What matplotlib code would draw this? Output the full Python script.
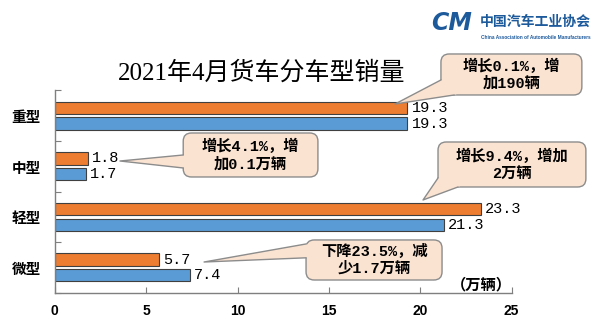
import matplotlib
matplotlib.use('Agg')
import matplotlib.pyplot as plt
from matplotlib.patches import FancyBboxPatch, Polygon

# Sales by truck class, April 2021 vs April 2020 (10k units)
categories = ['重型', '中型', '轻型', '微型']
sales_2021 = [19.3, 1.8, 23.3, 5.7]
sales_2020 = [19.3, 1.7, 21.3, 7.4]
callout_texts = ['增长0.1%，增\n加190辆',
                 '增长4.1%，增\n加0.1万辆',
                 '增长9.4%，增加\n2万辆',
                 '下降23.5%，减\n少1.7万辆']

ORANGE = '#ED7D31'
BLUE = '#5B9BD5'
BOX_FC = '#FBE3D2'
BOX_EC = '#8C8C8C'
LOGO = '#1d5a9c'

CJK = ['Noto Sans CJK SC', 'DejaVu Sans']
MONO = ['Liberation Mono', 'Noto Sans CJK SC']

fig = plt.figure(figsize=(6, 3.35), dpi=100)
ax = fig.add_axes([0.0912, 0.1263, 0.7616, 0.6036])

ypos = [3, 2, 1, 0]
h = 0.245
off = 0.155
ax.barh([y + off for y in ypos], sales_2021, height=h, color=ORANGE,
        edgecolor='#404040', linewidth=0.8, zorder=2)
ax.barh([y - off for y in ypos], sales_2020, height=h, color=BLUE,
        edgecolor='#404040', linewidth=0.8, zorder=2)

for y, v in zip(ypos, sales_2021):
    ax.text(v + 0.22, y + off, f'{v:.1f}', family=MONO, fontsize=11,
            va='center', ha='left')
for y, v in zip(ypos, sales_2020):
    ax.text(v + 0.22, y - off, f'{v:.1f}', family=MONO, fontsize=11,
            va='center', ha='left')

ax.set_xlim(0, 25)
ax.set_ylim(-0.5, 3.5)
ax.set_xticks(range(0, 26, 5))
ax.set_yticks([-0.5, 0.5, 1.5, 2.5, 3.5])
ax.set_yticklabels([])
ax.set_yticks(ypos, minor=True)
ax.set_yticklabels(categories, minor=True, family=CJK, fontweight='bold',
                   fontsize=10.5)
ax.tick_params(axis='y', which='major', direction='in', length=4,
               color='#7f7f7f')
ax.tick_params(axis='y', which='minor', length=0, pad=10)
ax.tick_params(axis='x', direction='in', length=4, color='#7f7f7f', pad=8)
for lab in ax.get_xticklabels():
    lab.set_family('Liberation Sans')
    lab.set_fontweight('bold')
    lab.set_fontsize(10)

for s in ['top', 'right']:
    ax.spines[s].set_visible(False)
for s in ['left', 'bottom']:
    ax.spines[s].set_color('#7f7f7f')
    ax.spines[s].set_linewidth(1.0)

ax.text(1.0, 0.043, '（万辆）', transform=ax.transAxes, family=CJK,
        fontweight='bold', fontsize=11, ha='right', va='center')

# callouts: box (x0, y0, w, h), pointer tip, two base points on the box edge
asp = 18.28 / 50.55
callouts = [
    ((21.13, 3.411, 7.71, 0.811), (18.62, 3.233), (21.13, 3.708), (21.85, 3.411)),
    ((7.03, 1.789, 7.37, 0.870), (3.57, 2.105), (7.03, 2.224), (7.03, 1.967)),
    ((20.97, 1.591, 8.09, 0.890), (20.15, 1.334), (20.97, 1.769), (22.06, 1.591)),
    ((13.75, -0.249, 7.44, 0.792), (8.17, 0.107), (13.75, 0.464), (13.75, 0.190)),
]
for (box, tip, a, b), txt in zip(callouts, callout_texts):
    x0, y0, w, hh = box
    patch = FancyBboxPatch((x0, y0), w, hh,
                           boxstyle='round,pad=0,rounding_size=0.45',
                           mutation_aspect=asp, fc=BOX_FC, ec=BOX_EC,
                           lw=1.0, clip_on=False, zorder=4)
    ax.add_patch(patch)
    cx, cy = x0 + w / 2, y0 + hh / 2
    wedge = Polygon([a, (cx, cy), b, tip], closed=True, fc=BOX_FC, ec='none',
                    clip_on=False, zorder=5)
    ax.add_patch(wedge)
    ax.plot([a[0], tip[0], b[0]], [a[1], tip[1], b[1]], color=BOX_EC,
            lw=1.0, clip_on=False, zorder=5)
    ax.text(cx, cy, txt, family=MONO, fontweight='bold', fontsize=11,
            ha='center', va='center', linespacing=1.25, zorder=6)

fig.text(0.436, 0.782, '2021年4月货车分车型销量',
         family=['Liberation Serif', 'Noto Sans CJK SC'], fontsize=18,
         ha='center', va='center')

# association logo, top right
fig.text(0.753, 0.931, 'CM', family='DejaVu Sans', fontweight='bold',
         style='italic', fontsize=17, color=LOGO, ha='center', va='center')
fig.text(0.800, 0.934, '中国汽车工业协会', family=CJK, fontweight='bold',
         fontsize=10, color=LOGO, ha='left', va='center')
fig.text(0.802, 0.889, 'China Association of Automobile Manufacturers',
         family='Liberation Sans', fontweight='bold', fontsize=3.4,
         color=LOGO, ha='left', va='center')

fig.savefig('out.png', dpi=100)
